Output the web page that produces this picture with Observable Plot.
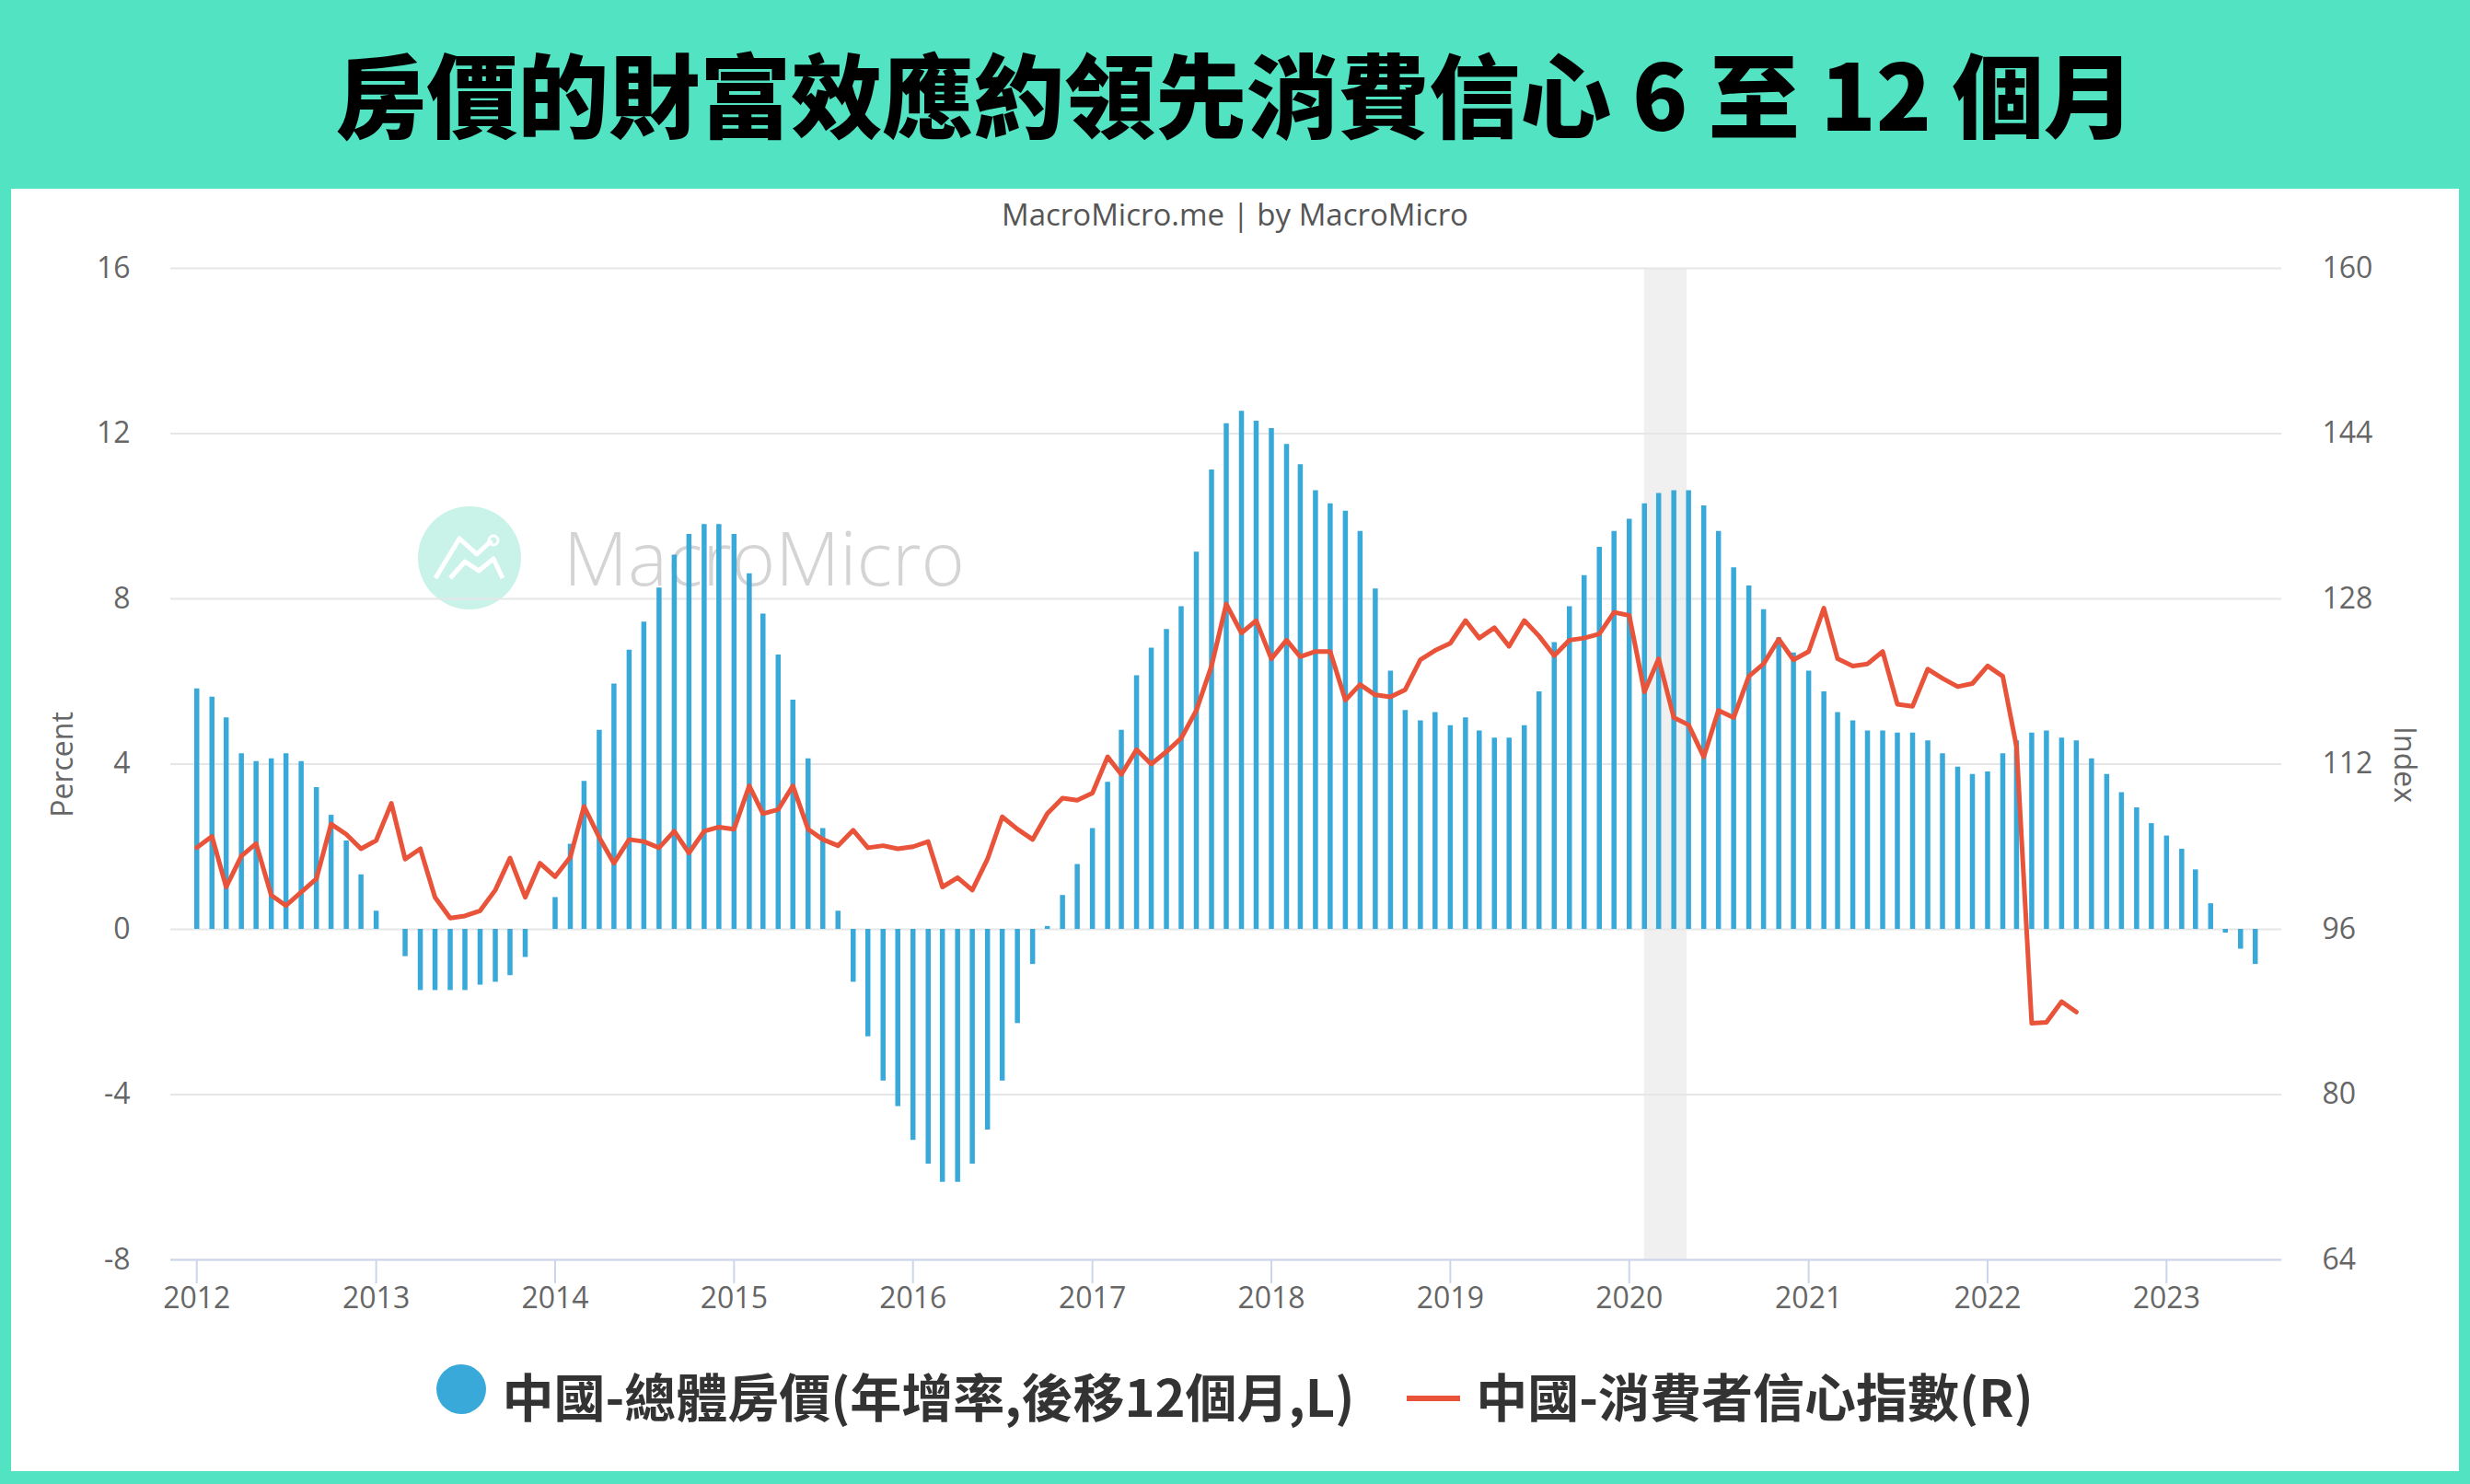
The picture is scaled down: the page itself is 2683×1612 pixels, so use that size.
<!DOCTYPE html>
<html>
<head>
<meta charset="utf-8">
<script src="https://cdn.jsdelivr.net/npm/d3@7"></script>
<script src="https://cdn.jsdelivr.net/npm/@observablehq/plot@0.6"></script>
<style>
  html, body { margin: 0; padding: 0; }
  body { width: 2683px; height: 1612px; background: #52e3c2; position: relative; overflow: hidden; font-family: "Open Sans", "Noto Sans", sans-serif; }
  #title { position: absolute; left: 0; top: 0; width: 2683px; height: 198px; display: flex; align-items: center; justify-content: center; font-family: "Noto Sans CJK TC", sans-serif; font-weight: 900; font-size: 99px; color: #000; }
  #panel { position: absolute; left: 12px; top: 205px; width: 2659px; height: 1393px; background: #fff; }
  #subtitle { position: absolute; left: 0; top: 210px; width: 2683px; text-align: center; font-size: 33px; color: #555; }
  #chart { position: absolute; left: 0; top: 205px; }
  .ylab { position: absolute; font-size: 32px; color: #666; white-space: nowrap; }
  #legend { position: absolute; left: 0; top: 1478px; width: 2683px; height: 72px; display: flex; align-items: center; justify-content: center; font-family: "Noto Sans CJK TC", sans-serif; font-weight: 700; font-size: 56px; color: #333; }
  #wm-text { position: absolute; left: 612px; top: 549px; font-size: 81px; color: #d4d4d4; font-weight: 300; }
</style>
</head>
<body>
<div id="title">房價的財富效應約領先消費信心 6 至 12 個月</div>
<div id="panel"></div>
<svg id="wm-logo" style="position:absolute;left:0;top:0" width="700" height="700">
  <circle cx="510" cy="606" r="56" fill="#c9f3e8"></circle>
  <polyline points="473,628 499,585 518,602 534,587" fill="none" stroke="#fff" stroke-width="5" stroke-linejoin="round"></polyline>
  <circle cx="536" cy="587" r="5" fill="none" stroke="#fff" stroke-width="3"></circle>
  <polyline points="489,628 505,610 520,620 536,607 546,628" fill="none" stroke="#fff" stroke-width="5" stroke-linejoin="round"></polyline>
</svg>
<div id="wm-text">MacroMicro</div>
<div id="subtitle">MacroMicro.me | by MacroMicro</div>
<div id="chart"></div>
<div class="ylab" id="ylabL">Percent</div>
<div class="ylab" id="ylabR">Index</div>
<div id="legend">
  <span style="display:inline-block;width:54px;height:54px;border-radius:50%;background:#38a9d9;margin-right:17px;position:relative;top:-5px"></span>
  <span>中國-總體房價(年增率,後移12個月,L)</span>
  <span style="display:inline-block;width:58px;height:6px;background:#e8533a;margin-left:57px;margin-right:17px;position:relative;top:5px"></span>
  <span>中國-消費者信心指數(R)</span>
</div>
<script>
// China overall house price YoY (%), shifted forward 12 months; monthly from 2012-01
const housePrice = [
  5.82, 5.62, 5.12, 4.25, 4.06, 4.13, 4.25, 4.06, 3.43, 2.76, 2.14, 1.32,
  0.44, 0.0, -0.66, -1.48, -1.48, -1.48, -1.48, -1.35, -1.28, -1.12, -0.68, 0.0,
  0.77, 2.06, 3.58, 4.82, 5.94, 6.76, 7.44, 8.26, 9.06, 9.56, 9.80, 9.80,
  9.56, 8.61, 7.63, 6.64, 5.55, 4.13, 2.44, 0.44, -1.28, -2.60, -3.67, -4.29,
  -5.11, -5.68, -6.12, -6.12, -5.68, -4.86, -3.67, -2.28, -0.85, 0.07, 0.82, 1.57,
  2.44, 3.56, 4.82, 6.14, 6.81, 7.26, 7.81, 9.13, 11.12, 12.24, 12.54, 12.30,
  12.12, 11.74, 11.25, 10.62, 10.30, 10.12, 9.63, 8.24, 6.25, 5.30, 5.05, 5.25,
  4.93, 5.12, 4.80, 4.63, 4.63, 4.93, 5.75, 6.94, 7.81, 8.56, 9.25, 9.63,
  9.93, 10.30, 10.55, 10.62, 10.62, 10.25, 9.63, 8.75, 8.31, 7.74, 7.06, 6.69,
  6.25, 5.75, 5.25, 5.05, 4.80, 4.80, 4.75, 4.75, 4.56, 4.25, 3.93, 3.75,
  3.81, 4.25, 4.56, 4.75, 4.80, 4.63, 4.56, 4.13, 3.75, 3.31, 2.94, 2.56,
  2.26, 1.94, 1.44, 0.62, -0.09, -0.48, -0.85
];
// China consumer confidence index; monthly from 2012-01
const confidence = [
  103.9, 105.0, 100.1, 103.1, 104.3, 99.3, 98.3, 99.6, 100.9, 106.2, 105.2, 103.8,
  104.6, 108.2, 102.8, 103.8, 99.1, 97.1, 97.3, 97.8, 99.8, 102.9, 99.1, 102.4,
  101.1, 103.0, 107.9, 104.9, 102.4, 104.7, 104.5, 103.9, 105.5, 103.4, 105.5, 105.9,
  105.7, 109.9, 107.2, 107.6, 109.9, 105.7, 104.7, 104.1, 105.6, 103.9, 104.1, 103.8,
  104.0, 104.5, 100.1, 101.0, 99.8, 102.8, 106.9, 105.7, 104.7, 107.2, 108.7, 108.5,
  109.2, 112.7, 111.0, 113.4, 112.0, 113.2, 114.5, 117.2, 121.5, 127.5, 124.7, 125.9,
  122.2, 124.0, 122.4, 122.9, 122.9, 118.2, 119.7, 118.7, 118.5, 119.2, 122.1, 123.0,
  123.7, 125.9, 124.2, 125.2, 123.4, 125.9, 124.4, 122.5, 124.0, 124.2, 124.6, 126.7,
  126.4, 119.0, 122.2, 116.5, 115.8, 112.7, 117.2, 116.5, 120.5, 121.7, 124.1, 122.1,
  122.9, 127.1, 122.2, 121.5, 121.7, 122.9, 117.8, 117.6, 121.2, 120.3, 119.5, 119.8,
  121.5, 120.5, 113.7, 86.9, 87.0, 89.0, 88.0
];
const startMonth = "2012-01-01";
const yTicksLeft = [-8, -4, 0, 4, 8, 12, 16];
const yTicksRight = [64, 80, 96, 112, 128, 144, 160];
const xTickYears = [2012, 2013, 2014, 2015, 2016, 2017, 2018, 2019, 2020, 2021, 2022, 2023];
const recession = [{start: "2020-02-01", end: "2020-04-28"}];
const xDomain = ["2011-11-09", "2023-08-24"];

// right axis (Index) mapped onto the left (Percent) scale: 64..160 -> -8..16
const toLeft = v => (v - 96) / 4;
const toRight = p => p * 4 + 96;

const start = new Date(startMonth + "T00:00:00Z");
const barData = housePrice.map((v, i) => ({date: d3.utcMonth.offset(start, i), v}));
const lineData = confidence.map((v, i) => ({date: d3.utcMonth.offset(start, i), v}));
const xTicks = xTickYears.map(y => new Date(Date.UTC(y, 0, 1)));
const band = recession.map(r => ({x1: new Date(r.start + "T00:00:00Z"), x2: new Date(r.end + "T00:00:00Z")}));

const chart = Plot.plot({
  width: 2683,
  height: 1260,
  marginLeft: 185,
  marginRight: 205,
  marginTop: 86,
  marginBottom: 97,
  style: {background: "transparent", fontFamily: "'Open Sans', sans-serif", fontSize: "32px", color: "#666", overflow: "visible"},
  x: {type: "utc", domain: xDomain.map(d => new Date(d + "T00:00:00Z"))},
  y: {domain: [-8, 16]},
  marks: [
    Plot.rect(band, {x1: "x1", x2: "x2", y1: -8, y2: 16, fill: "#f0f0f0"}),
    Plot.gridY(yTicksLeft, {stroke: "#e6e6e6", strokeOpacity: 1, strokeWidth: 2}),
    Plot.ruleY([-8], {stroke: "#ccd6eb", strokeWidth: 2}),
    Plot.axisY(yTicksLeft, {anchor: "left", tickSize: 0, tickPadding: 44, label: null, fill: "#666", tickFormat: d => String(d)}),
    Plot.axisY(yTicksRight.map(toLeft), {anchor: "right", tickSize: 0, tickPadding: 44, label: null, fill: "#666", tickFormat: d => String(toRight(d))}),
    Plot.axisX(xTicks, {anchor: "bottom", tickSize: 26, tickPadding: 4, tickFormat: d3.utcFormat("%Y"), stroke: "#ccd6eb", strokeWidth: 2, fill: "#666", label: null}),
    Plot.ruleX(barData, {x: "date", y1: 0, y2: "v", stroke: "#38a9d9", strokeWidth: 5.5}),
    Plot.line(lineData, {x: "date", y: d => toLeft(d.v), stroke: "#e8533a", strokeWidth: 5, strokeLinejoin: "round", strokeLinecap: "round"})
  ]
});
document.getElementById("chart").appendChild(chart);

// rotated axis titles
function place(el, cx, cy, deg) {
  const w = el.offsetWidth, h = el.offsetHeight;
  el.style.left = (cx - w / 2) + "px";
  el.style.top = (cy - h / 2) + "px";
  el.style.transform = `rotate(${deg}deg)`;
}
place(document.getElementById("ylabL"), 66, 830, -90);
place(document.getElementById("ylabR"), 2613, 830, 90);
</script>
</body>
</html>
